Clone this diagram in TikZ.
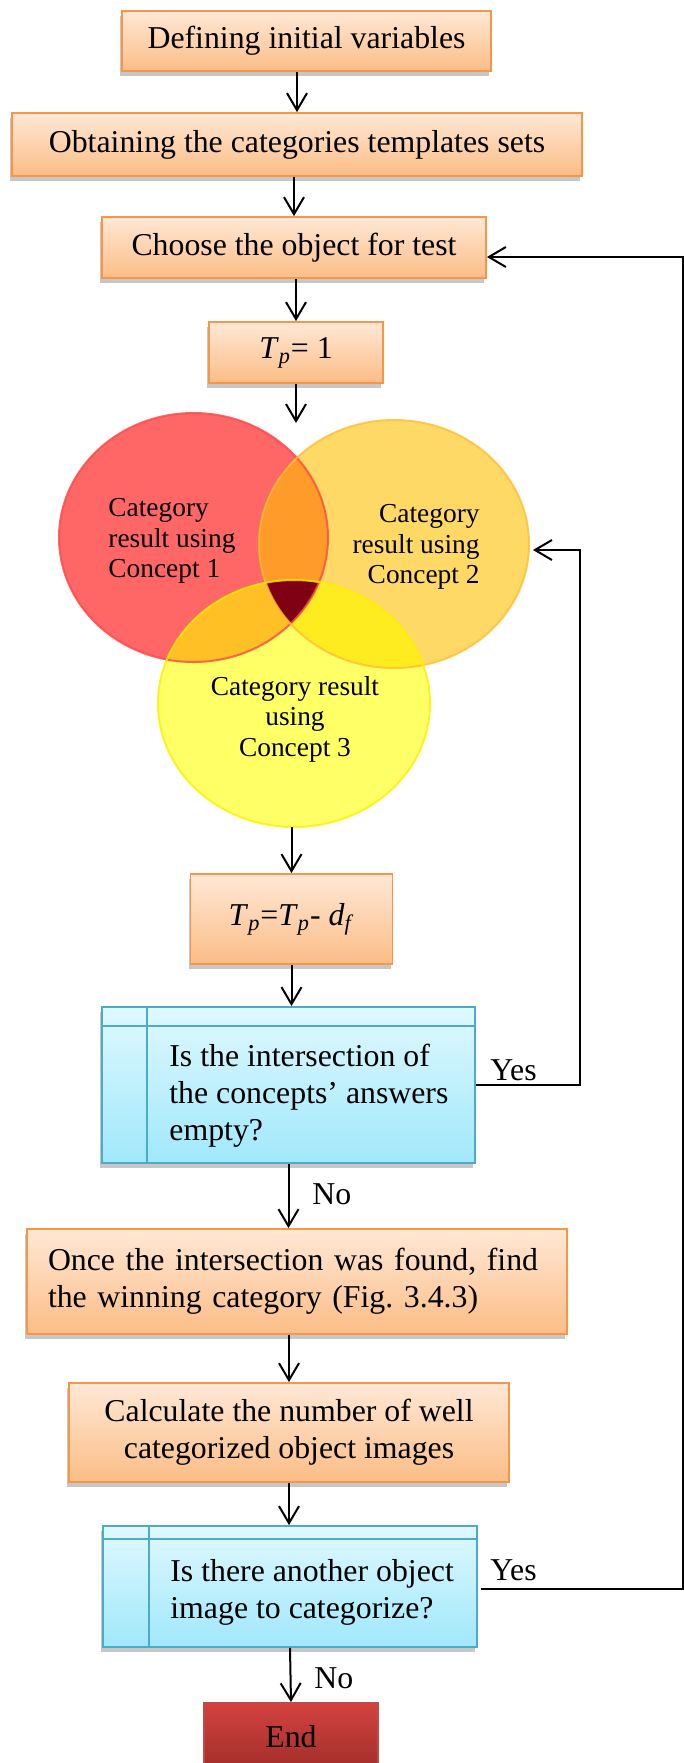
\documentclass[tikz,border=0pt]{standalone}
\usepackage{fontspec}
\setmainfont{Liberation Serif}
\usepackage{graphicx}
\usetikzlibrary{shapes.geometric,shadows,arrows.meta}
\frenchspacing
\definecolor{obd}{RGB}{247,150,70}
\definecolor{otop}{RGB}{255,232,214}
\definecolor{obot}{RGB}{251,189,134}
\definecolor{bbd}{RGB}{75,172,198}
\definecolor{btop}{RGB}{224,248,254}
\definecolor{bbot}{RGB}{160,232,251}
\definecolor{ebd}{RGB}{190,75,72}
\definecolor{etop}{RGB}{212,66,63}
\definecolor{ebot}{RGB}{160,45,42}
\definecolor{cred}{RGB}{255,102,102}
\definecolor{cora}{RGB}{255,217,102}
\definecolor{cyel}{RGB}{255,255,102}
\definecolor{cro}{RGB}{255,155,40}
\definecolor{cry}{RGB}{255,192,38}
\definecolor{coy}{RGB}{255,236,32}
\definecolor{ctri}{RGB}{128,0,20}
\definecolor{redb}{RGB}{255,70,70}
\definecolor{orab}{RGB}{255,190,50}
\definecolor{yelb}{RGB}{255,238,0}
\newcommand{\Tp}{\textit{T}\textsubscript{\textit{p}}}
\newcommand{\Df}{\textit{d}\textsubscript{\textit{f}}}
\begin{document}
\begin{tikzpicture}[x=0.5pt,y=-0.5pt,
  every node/.style={font=\fontsize{15.9pt}{18.5pt}\selectfont},
  shadowed/.style={drop shadow={shadow xshift=-1pt,shadow yshift=-2.5pt,fill=black,opacity=0.22}},
  obox/.style={draw=obd,line width=0.9pt,top color=otop,bottom color=obot,inner sep=0pt,shadowed},
  bbox/.style={draw=bbd,line width=0.9pt,top color=btop,bottom color=bbot,inner sep=0pt,shadowed},
  ebox/.style={draw=ebd,line width=0.9pt,top color=etop,bottom color=ebot,inner sep=0pt},
  ring/.style={ellipse,line width=1pt,inner sep=0pt,outer sep=0pt},
  vtext/.style={font=\fontsize{13.7pt}{15.3pt}\selectfont,inner sep=0pt},
  qtext/.style={inner sep=0pt,anchor=west,align=left},
  lab/.style={inner sep=0pt,anchor=base west},
  arr/.style={line width=1pt,-{Straight Barb[length=8.5pt,width=10pt]}},
  link/.style={line width=1pt}]
\clip (0,0) rectangle (684,1763);
\fill[white] (0,0) rectangle (684,1763);

% boxes
\node[obox,minimum width=184.5pt,minimum height=30pt] (b1) at (306.5,41) {Defining initial variables};
\node[obox,minimum width=285pt,minimum height=31.5pt] (b2) at (297,144.5) {Obtaining the categories templates sets};
\node[obox,minimum width=192pt,minimum height=30.5pt] (b3) at (294,247.5) {Choose the object for test};
\node[obox,minimum width=87pt,minimum height=30.5pt] (b4) at (296,352.5) {\Tp= 1};

% Venn diagram
\fill[cred] (193.5,537.5) ellipse [x radius=67.25pt, y radius=62.25pt];
\fill[cora] (394,544) ellipse [x radius=67.5pt, y radius=62pt];
\fill[cyel] (294,703.5) ellipse [x radius=68pt, y radius=61.75pt];
\begin{scope}
  \clip (193.5,537.5) ellipse [x radius=67.25pt, y radius=62.25pt];
  \fill[cro] (394,544) ellipse [x radius=67.5pt, y radius=62pt];
\end{scope}
\begin{scope}
  \clip (193.5,537.5) ellipse [x radius=67.25pt, y radius=62.25pt];
  \fill[cry] (294,703.5) ellipse [x radius=68pt, y radius=61.75pt];
\end{scope}
\begin{scope}
  \clip (394,544) ellipse [x radius=67.5pt, y radius=62pt];
  \fill[coy] (294,703.5) ellipse [x radius=68pt, y radius=61.75pt];
\end{scope}
\begin{scope}
  \clip (193.5,537.5) ellipse [x radius=67.25pt, y radius=62.25pt];
  \clip (394,544) ellipse [x radius=67.5pt, y radius=62pt];
  \fill[ctri] (294,703.5) ellipse [x radius=68pt, y radius=61.75pt];
\end{scope}
\node[ring,draw=redb,draw opacity=0.8,minimum width=134.5pt,minimum height=124.5pt] (c1) at (193.5,537.5) {};
\node[ring,draw=orab,draw opacity=0.8,minimum width=135pt,minimum height=124pt] (c2) at (394,544) {};
\node[ring,draw=yelb,draw opacity=0.8,minimum width=136pt,minimum height=123.5pt] (c3) at (294,703.5) {};
\node[vtext,anchor=west,align=left] (t1) at (108,541) {Category\\result using\\Concept 1};
\node[vtext,anchor=east,align=right] (t2) at (480,547) {Category\\result using\\Concept 2};
\node[vtext,align=center] (t3) at (295,719) {Category result\\using\\Concept 3};

\node[obox,minimum width=101pt,minimum height=45pt] (b5) at (291.5,919) {\Tp=\Tp- \Df};

\node[bbox,minimum width=186.5pt,minimum height=78pt] (q1) at (288.5,1085) {};
\draw[bbd,line width=0.9pt] ([yshift=-10pt]q1.north west) -- ([yshift=-10pt]q1.north east);
\draw[bbd,line width=0.9pt] ([xshift=23pt]q1.north west) -- ([xshift=23pt]q1.south west);
\node[qtext] (q1t) at (169,1096) {Is the intersection of\\the concepts' answers\\empty?};

\node[obox,minimum width=270pt,minimum height=52.5pt,text width=249pt,align=left] (b6) at (297,1281.5) {Once the intersection was found, find\\the winning category (Fig. 3.4.3)};
\node[obox,minimum width=220pt,minimum height=49.5pt,align=center] (b7) at (289,1432.5) {Calculate the number of well\\categorized object images};

\node[bbox,minimum width=187.25pt,minimum height=60.5pt] (q2) at (290,1586.5) {};
\draw[bbd,line width=0.9pt] ([yshift=-7pt]q2.north west) -- ([yshift=-7pt]q2.north east);
\draw[bbd,line width=0.9pt] ([xshift=23.5pt]q2.north west) -- ([xshift=23.5pt]q2.south west);
\node[qtext] (q2t) at (170,1592) {Is there another object\\image to categorize?};

\node[ebox,minimum width=87.25pt,minimum height=34pt] (end) at (291,1737) {End};

% connectors
\coordinate (vt) at (296,423);
\draw[arr] (b1.south -| b2.north) -- (b2.north);
\draw[arr] (b2.south -| b3.north) -- (b3.north);
\draw[arr] (b3.south -| b4.north) -- (b4.north);
\draw[arr] (b4.south) -- (vt);
\draw[arr] (c3.south -| b5.north) -- (b5.north);
\draw[arr] (b5.south) -- (b5.south |- q1.north);
\draw[arr] (q1.south) -- (q1.south |- b6.north);
\draw[arr] (b6.south -| b7.north) -- (b7.north);
\draw[arr] (b7.south) -- (b7.south |- q2.north);
\draw[arr] (q2.south) -- (end.north);

\coordinate (y1r) at (580,1085);
\coordinate (y1t) at (580,550);
\draw[arr] (q1.east) -- (y1r) -- (y1t) -- ([xshift=2pt]y1t -| c2.east);
\coordinate (yr) at (683,1589);
\coordinate (yt) at (683,257);
\draw[arr] ([xshift=1.5pt]q2.east |- yr) -- (yr) -- (yt) -- (yt -| b3.east);

\node[lab] (yes1) at (490,1080) {Yes};
\node[lab] (no1) at (312,1204) {No};
\node[lab] (yes2) at (490,1580) {Yes};
\node[lab] (no2) at (314,1688) {No};
\end{tikzpicture}
\end{document}
